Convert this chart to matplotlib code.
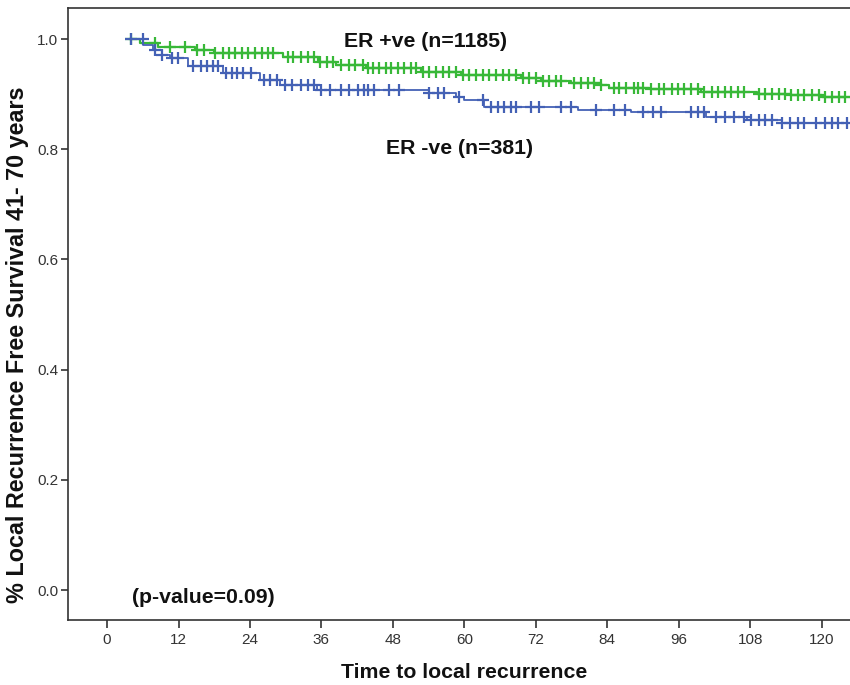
import numpy as np
import matplotlib
matplotlib.use("Agg")
import matplotlib.pyplot as plt

plt.rcParams['font.family'] = ['Liberation Sans', 'DejaVu Sans']

# ---- data (months, survival proportion) ----
pos_event_t = [3.9, 5.6, 8.6, 14.8, 18.0, 29.6, 35.5, 38.4, 43.4, 52.7, 59.4, 69.5,
               72.9, 77.9, 83.0, 84.3, 91.4, 99.8, 109.1, 114.9, 120.0]
pos_event_s = [1.000, 0.992, 0.986, 0.980, 0.975, 0.968, 0.959, 0.953, 0.947, 0.941,
               0.935, 0.929, 0.923, 0.920, 0.916, 0.912, 0.909, 0.904, 0.901, 0.898, 0.895]
pos_censor_t = [4.0, 8.1, 10.6, 13.1, 15.1, 16.2, 18.2, 19.4, 20.4, 21.5, 22.7, 23.7,
                24.9, 26.1, 27.1, 27.9, 30.3, 31.3, 32.5, 33.7, 34.7, 35.8, 37.0, 38.0,
                39.2, 40.6, 41.7, 42.9, 43.8, 44.6, 45.6, 46.8, 47.6, 48.8, 49.8, 51.0,
                51.8, 53.0, 54.0, 55.2, 56.4, 57.4, 58.6, 59.7, 60.8, 61.9, 63.1, 64.1,
                65.3, 66.5, 67.5, 68.7, 69.8, 70.9, 72.0, 73.2, 74.2, 75.4, 76.2, 78.4,
                79.6, 80.8, 81.8, 83.0, 85.2, 86.0, 87.2, 88.4, 89.2, 90.0, 91.4, 92.6,
                93.6, 94.8, 95.9, 96.9, 98.1, 99.3, 100.3, 101.5, 102.6, 103.7, 104.8,
                106.0, 107.0, 109.4, 110.4, 111.6, 112.8, 113.8, 114.9, 116.1, 117.1,
                118.3, 119.5, 120.5, 121.7, 122.9, 123.9]

neg_event_t = [3.9, 6.1, 7.7, 9.3, 10.6, 13.6, 19.5, 25.7, 29.1, 35.3, 54.0, 58.6,
               59.9, 63.3, 79.1, 88.0, 100.6, 107.4, 113.3]
neg_event_s = [1.000, 0.989, 0.980, 0.971, 0.966, 0.951, 0.938, 0.926, 0.917, 0.908,
               0.9025, 0.895, 0.889, 0.877, 0.871, 0.867, 0.859, 0.853, 0.848]
neg_censor_t = [4.0, 6.0, 8.1, 9.3, 10.9, 11.9, 14.5, 15.7, 16.8, 17.8, 18.7, 19.9,
                21.0, 21.9, 22.9, 24.1, 26.3, 27.4, 28.6, 29.9, 31.1, 32.5, 33.7, 34.7,
                35.9, 37.5, 39.2, 40.6, 42.1, 43.1, 43.9, 44.8, 47.3, 49.0, 54.0, 55.5,
                56.5, 59.1, 63.1, 64.5, 65.6, 66.6, 67.8, 68.7, 71.2, 72.6, 76.2, 77.9,
                82.1, 85.1, 87.0, 90.0, 91.7, 93.1, 98.1, 99.3, 100.3, 102.3, 103.7,
                105.2, 106.9, 108.2, 109.4, 110.4, 111.6, 113.3, 114.6, 116.1, 117.1,
                119.1, 120.5, 121.7, 122.8, 124.2]

x_ticks = [0, 12, 24, 36, 48, 60, 72, 84, 96, 108, 120]
y_ticks = [0.0, 0.2, 0.4, 0.6, 0.8, 1.0]

label_pos = "ER +ve (n=1185)"
label_neg = "ER -ve (n=381)"
p_text = "(p-value=0.09)"
x_label = "Time to local recurrence"
y_label = "% Local Recurrence Free Survival 41- 70 years"

green = '#38B838'
blue = '#4461B5'
t_end = 130.0


def step_at(times, surv, t):
    idx = np.searchsorted(np.asarray(times), np.asarray(t), side='right') - 1
    idx = np.clip(idx, 0, len(surv) - 1)
    return np.asarray(surv)[idx]


fig = plt.figure(figsize=(8.5, 6.85), dpi=100)
ax = fig.add_axes([68 / 850, 65 / 685, 1 - 68 / 850 + 0.002, (620 - 8) / 685])

for et, es, ct, col, lw in [(pos_event_t, pos_event_s, pos_censor_t, green, 1.6),
                            (neg_event_t, neg_event_s, neg_censor_t, blue, 1.3)]:
    ax.step(list(et) + [t_end], list(es) + [es[-1]], where='post', color=col, lw=lw, zorder=3)
    ax.plot(ct, step_at(et, es, ct), linestyle='none', marker='+', markersize=9,
            markeredgewidth=1.6, color=col, zorder=4)

ax.set_xlim(-6.56, 125.04)
ax.set_ylim(-0.0544, 1.0563)
ax.set_xticks(x_ticks)
ax.set_yticks(y_ticks)
ax.set_yticklabels([f"{v:.1f}" for v in y_ticks])
ax.tick_params(axis='both', direction='out', labelsize=11, labelcolor='#333333',
               color='#333333', width=1.2)
ax.tick_params(axis='x', length=6, pad=3)
ax.tick_params(axis='y', length=5, pad=2)
for s in ['left', 'bottom', 'top']:
    ax.spines[s].set_color('#333333')
    ax.spines[s].set_linewidth(1.2)
ax.spines['right'].set_visible(False)

bold = dict(fontsize=15.3, fontweight='bold', color='#111111')
ax.text(53.5, 0.9946, label_pos, ha='center', va='center', **bold)
ax.text(59.1, 0.802, label_neg, ha='center', va='center', **bold)
ax.text(16.2, -0.0127, p_text, ha='center', va='center', **bold)

fig.text(464 / 850, 1 - 672 / 685, x_label, ha='center', va='center', **bold)
fig.text(18 / 850, 1 - 345 / 685, y_label, ha='center', va='center', rotation=90,
         fontsize=16.8, fontweight='bold', color='#111111')

fig.savefig('out.png', dpi=100)
